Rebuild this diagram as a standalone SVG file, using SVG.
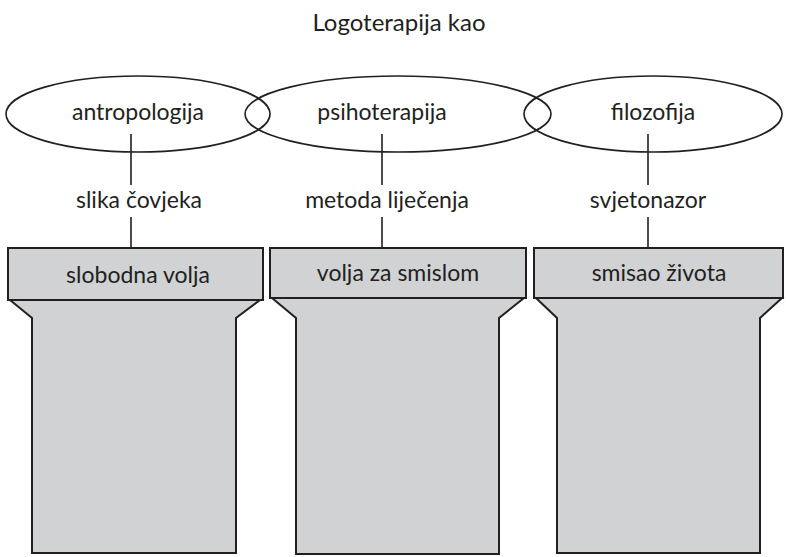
<svg xmlns="http://www.w3.org/2000/svg" width="786" height="557" viewBox="0 0 786 557">
<style>
text{font-family:Lato,"Open Sans","Liberation Sans",sans-serif;font-size:23px;fill:#231f20;text-anchor:middle}
.e{fill:none;stroke:#231f20;stroke-width:1.6}
.c{fill:#d1d2d4;stroke:#231f20;stroke-width:2}
.l{stroke:#231f20;stroke-width:1.6;fill:none}
</style>
<rect width="786" height="557" fill="#fff"/>
<text x="399" y="31" style="font-size:24px">Logoterapija kao</text>
<g id="pillar1">
<path class="c" d="M10 300 L32 318 L32 553 L236 553 L236 318 L260 300 Z"/>
<rect class="c" x="8" y="248" width="255" height="52"/>
<text x="138" y="283">slobodna volja</text>
</g>
<g id="pillar2">
<path class="c" d="M272 298 L296 318 L296 554 L499 554 L499 318 L524 298 Z"/>
<rect class="c" x="270" y="248" width="256" height="50"/>
<text x="398" y="281">volja za smislom</text>
</g>
<g id="pillar3">
<path class="c" d="M536 298 L557 318 L557 553 L760 553 L760 318 L782 298 Z"/>
<rect class="c" x="534" y="248" width="249" height="50"/>
<text x="659" y="281">smisao života</text>
</g>
<g id="connectors">
<path class="l" d="M131 134 V185 M131 217 V248"/>
<path class="l" d="M382 134 V185 M382 217 V248"/>
<path class="l" d="M648 134 V185 M648 217 V248"/>
</g>
<g id="labels">
<text x="139" y="208">slika čovjeka</text>
<text x="387" y="208">metoda liječenja</text>
<text x="648" y="208">svjetonazor</text>
</g>
<g id="antropologija">
<ellipse class="e" cx="138" cy="114" rx="132" ry="38"/>
<text x="138" y="120">antropologija</text>
</g>
<g id="psihoterapija">
<ellipse class="e" cx="398" cy="114" rx="153" ry="38"/>
<text x="382" y="120">psihoterapija</text>
</g>
<g id="filozofija">
<ellipse class="e" cx="653" cy="114" rx="129" ry="38"/>
<text x="653" y="120">filozofija</text>
</g>
</svg>
